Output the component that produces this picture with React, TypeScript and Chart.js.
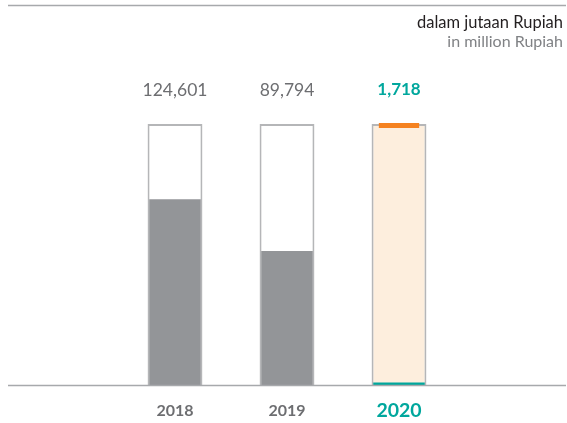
import React, { useEffect, useRef } from "react";
import { Chart, registerables } from "chart.js";

Chart.register(...registerables);

const categories = ["2018", "2019", "2020"];
const values = [124601, 89794, 1718];
const valueLabels = ["124,601", "89,794", "1,718"];
const frameValues = [175000, 175000, 175000];
const markerValues: ([number, number] | null)[] = [null, null, [172300, 175700]];

const GRAY_TEXT = "#6d6e71";
const TEAL = "#00a79d";
const ORANGE = "#f58220";
const FRAME = "#b5b6b8";
const LINE = "#a7a9ac";
const FILL_GRAY = "#939598";
const PEACH = "#fdeedd";
const FONT = "Lato, 'Open Sans', sans-serif";

const overlayPlugin = {
  id: "overlay",
  beforeDatasetsDraw(chart: any) {
    const ctx = chart.ctx;
    ctx.save();
    ctx.strokeStyle = LINE;
    ctx.lineWidth = 1.5;
    ctx.beginPath();
    ctx.moveTo(8, 5.5);
    ctx.lineTo(566, 5.5);
    ctx.stroke();
    ctx.restore();
  },
  afterDatasetsDraw(chart: any) {
    const ctx = chart.ctx;
    const xs = chart.scales.x;
    const ys = chart.scales.y;
    const base = ys.getPixelForValue(0);
    ctx.save();
    ctx.strokeStyle = LINE;
    ctx.lineWidth = 1.5;
    ctx.beginPath();
    ctx.moveTo(8, base + 0.5);
    ctx.lineTo(566, base + 0.5);
    ctx.stroke();

    ctx.textAlign = "center";
    ctx.textBaseline = "middle";
    categories.forEach((c, i) => {
      const x = xs.getPixelForValue(i);
      const last = i === categories.length - 1;
      ctx.fillStyle = last ? TEAL : GRAY_TEXT;
      ctx.font = (last ? "bold 17px " : "17.5px ") + FONT;
      ctx.fillText(valueLabels[i], x, 90);
      ctx.font = (last ? "bold 19.5px " : "bold 16px ") + FONT;
      ctx.fillText(c, x, 411);
    });

    ctx.textAlign = "right";
    ctx.fillStyle = "#231f20";
    ctx.font = "16.5px " + FONT;
    ctx.fillText("dalam jutaan Rupiah", 563, 23);
    ctx.fillStyle = "#808285";
    ctx.font = "16px " + FONT;
    ctx.fillText("in million Rupiah", 563, 42);
    ctx.restore();
  },
};

export default function App() {
  const ref = useRef<HTMLCanvasElement>(null);
  useEffect(() => {
    if (!ref.current) return;
    const chart = new Chart(ref.current, {
      type: "bar",
      data: {
        labels: categories,
        datasets: [
          {
            data: markerValues as any,
            backgroundColor: ORANGE,
            borderWidth: 0,
            barPercentage: 0.36,
            categoryPercentage: 1,
            grouped: false,
            order: 1,
          },
          {
            data: values,
            backgroundColor: [FILL_GRAY, FILL_GRAY, TEAL],
            borderWidth: 0,
            barPercentage: 0.46,
            categoryPercentage: 1,
            grouped: false,
            order: 2,
          },
          {
            data: frameValues,
            backgroundColor: ["#ffffff", "#ffffff", PEACH],
            borderColor: FRAME,
            borderWidth: { top: 2, left: 2, right: 2, bottom: 0 },
            barPercentage: 0.49,
            categoryPercentage: 1,
            grouped: false,
            order: 3,
          },
        ],
      },
      options: {
        animation: false,
        responsive: false,
        layout: { padding: { left: 119, right: 112, top: 122.5, bottom: 38 } },
        plugins: { legend: { display: false }, tooltip: { enabled: false } },
        scales: {
          x: { display: false, offset: true },
          y: { display: false, min: 0, max: 176000 },
        },
      },
      plugins: [overlayPlugin],
    });
    return () => chart.destroy();
  }, []);
  return (
    <canvas
      ref={ref}
      width={567}
      height={423}
      style={{ position: "fixed", left: 0, top: 0, width: 567, height: 423 }}
    />
  );
}
